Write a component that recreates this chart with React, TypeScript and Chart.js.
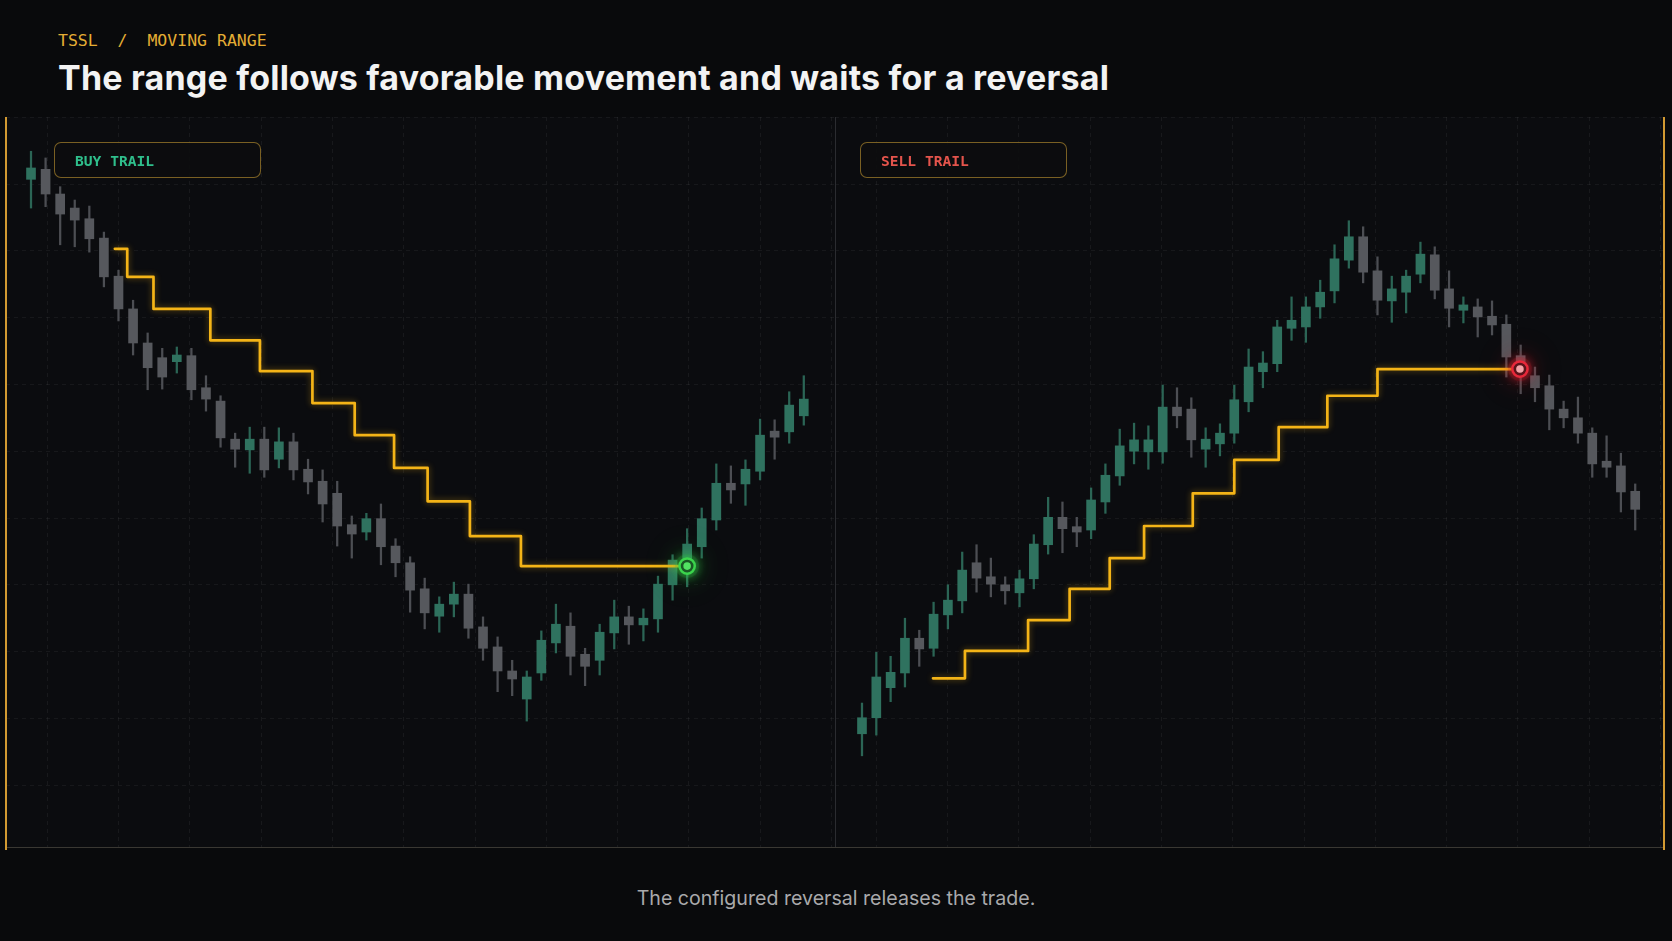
import React, { useEffect, useRef } from 'react';
import { Chart, registerables } from 'chart.js';

Chart.register(...registerables);

// ---------- BUY TRAIL panel (left) ----------
const buyOpen = [100.7, 102.2, 98.5, 96.4, 94.8, 91.9, 86.2, 81.3, 76.2, 74.0, 73.4, 74.3, 69.5, 67.5, 61.8, 60.2, 61.8, 58.8, 61.4, 57.3, 55.5, 53.7, 49.0, 47.9, 49.9, 45.8, 43.3, 39.4, 35.3, 37.1, 38.6, 33.7, 30.7, 27.1, 22.9, 26.8, 31.3, 33.8, 29.6, 28.7, 32.8, 35.2, 34.0, 34.9, 40.0, 43.4, 45.7, 49.7, 55.2, 55.1, 57.0, 63.0, 62.9, 65.3];
const buyHigh = [104.9, 103.9, 99.6, 97.6, 96.7, 92.8, 87.1, 82.6, 77.7, 75.4, 75.6, 75.4, 71.3, 68.3, 62.7, 63.6, 63.6, 63.5, 62.7, 58.8, 57.2, 55.5, 50.3, 50.7, 52.1, 46.9, 44.2, 41.0, 38.2, 40.4, 40.1, 35.2, 32.2, 28.7, 27.1, 33.1, 37.1, 35.8, 30.5, 34.1, 37.7, 36.8, 36.4, 41.3, 44.5, 48.4, 51.5, 58.1, 57.8, 58.7, 64.8, 64.7, 68.9, 71.3];
const buyLow = [96.4, 96.6, 90.9, 90.6, 89.8, 84.6, 79.5, 74.4, 69.2, 69.3, 71.7, 67.7, 66.0, 60.6, 57.6, 56.7, 56.1, 57.5, 55.7, 53.6, 49.4, 45.8, 44.0, 46.7, 43.0, 41.2, 35.9, 33.4, 32.9, 35.2, 32.0, 28.7, 24.0, 23.4, 19.6, 25.7, 29.8, 26.5, 24.9, 26.5, 30.4, 31.1, 31.6, 32.9, 37.7, 39.7, 44.0, 48.2, 52.2, 51.9, 55.7, 58.8, 61.2, 63.9];
const buyClose = [102.4, 98.5, 95.5, 94.6, 91.8, 86.1, 81.3, 76.2, 72.5, 71.1, 74.4, 69.2, 67.8, 62.0, 60.3, 61.8, 57.2, 61.4, 57.2, 55.4, 52.1, 48.8, 47.6, 49.9, 45.7, 43.3, 39.2, 35.8, 37.1, 38.6, 33.5, 30.5, 27.1, 25.9, 26.2, 31.7, 34.1, 29.3, 27.8, 32.9, 35.2, 34.0, 35.0, 40.1, 43.7, 46.1, 49.9, 55.2, 54.2, 57.3, 62.4, 62.1, 66.9, 67.8];
const buyTrailLevels = [90.3, 86.1, 81.3, 76.6, 72.0, 67.2, 62.4, 57.5, 52.5, 47.3, 42.8];
const buyTrailBreaks = [5.75, 6.6, 8.4, 12.3, 15.7, 19.3, 22.2, 24.9, 27.2, 30.1, 33.6, 45.0];
const buyMarker = { x: 45.0, y: 42.8 };

// ---------- SELL TRAIL panel (right) ----------
const sellOpen = [17.7, 20.1, 24.6, 26.8, 32.0, 30.5, 35.5, 37.6, 43.3, 41.2, 40.0, 38.8, 40.9, 46.0, 50.1, 48.7, 48.2, 52.4, 56.3, 60.0, 59.9, 59.9, 66.6, 66.3, 60.3, 61.1, 62.7, 67.4, 71.9, 73.1, 78.4, 78.6, 81.6, 84.0, 88.6, 92.1, 87.0, 82.5, 83.8, 86.5, 89.4, 84.3, 81.1, 81.6, 80.2, 79.0, 74.3, 71.3, 69.8, 66.3, 65.0, 62.7, 58.5, 57.8, 54.0];
const sellHigh = [22.3, 29.9, 29.3, 35.0, 33.2, 37.4, 40.0, 44.9, 46.0, 44.0, 41.2, 42.2, 47.5, 53.1, 52.4, 50.1, 54.5, 58.1, 63.3, 64.2, 63.8, 69.9, 69.5, 68.0, 63.5, 64.1, 69.9, 75.3, 74.9, 79.6, 83.1, 83.1, 85.6, 90.9, 94.5, 93.6, 89.1, 86.2, 87.1, 91.3, 90.6, 87.0, 83.1, 82.8, 82.5, 80.4, 75.9, 72.6, 71.4, 67.5, 68.1, 63.5, 62.3, 59.7, 55.1];
const sellLow = [14.4, 17.5, 22.5, 24.7, 27.8, 29.3, 33.4, 35.8, 38.9, 38.2, 37.1, 36.7, 39.4, 44.6, 44.8, 45.7, 46.9, 50.7, 54.9, 58.1, 57.3, 58.2, 63.5, 59.1, 57.6, 59.3, 61.2, 65.9, 69.5, 71.9, 76.6, 76.3, 79.9, 82.2, 87.4, 85.2, 80.4, 79.3, 80.7, 85.2, 82.8, 78.6, 79.2, 77.1, 77.4, 71.1, 68.6, 67.4, 63.2, 63.5, 61.2, 56.1, 56.1, 50.9, 48.2];
const sellClose = [20.1, 26.2, 26.9, 32.0, 30.4, 35.6, 37.7, 42.2, 41.0, 40.1, 39.1, 40.9, 46.1, 50.1, 48.4, 47.9, 52.7, 56.4, 60.8, 61.7, 61.7, 66.6, 65.3, 61.7, 61.8, 62.7, 67.7, 72.6, 73.2, 78.6, 79.6, 81.6, 83.8, 88.8, 92.1, 86.8, 82.6, 84.3, 86.2, 89.5, 84.1, 81.4, 81.9, 80.1, 78.9, 74.1, 72.8, 69.5, 66.3, 65.0, 62.7, 58.1, 57.6, 53.9, 51.3];
const sellTrailLevels = [26.0, 30.1, 34.7, 39.4, 44.0, 48.8, 53.7, 58.7, 63.6, 68.3, 72.3];
const sellTrailBreaks = [4.96, 7.19, 11.6, 14.5, 17.3, 19.7, 23.1, 26.0, 29.1, 32.5, 36.0, 45.95];
const sellMarker = { x: 45.95, y: 72.3 };

const UP_BODY = '#2f725f';
const DOWN_BODY = '#56585d';
const UP_WICK = '#2b6555';
const DOWN_WICK = '#4c4e53';
const TRAIL = '#f4b417';

const glowPlugin = {
  id: 'glow',
  beforeDatasetDraw(chart: any, args: any) {
    const ds = chart.data.datasets[args.index];
    if (ds.glowColor) {
      chart.ctx.save();
      chart.ctx.shadowColor = ds.glowColor;
      chart.ctx.shadowBlur = ds.glowBlur;
    }
  },
  afterDatasetDraw(chart: any, args: any) {
    const ds = chart.data.datasets[args.index];
    if (ds.glowColor) chart.ctx.restore();
  },
};

type PanelProps = {
  open: number[];
  high: number[];
  low: number[];
  close: number[];
  levels: number[];
  breaks: number[];
  marker: { x: number; y: number };
  xMin: number;
  xMax: number;
  ring: string;
  ringFill: string;
  dot: string;
  glow: string;
  halo: string;
};

function Panel(p: PanelProps) {
  const ref = useRef<HTMLCanvasElement | null>(null);
  useEffect(() => {
    if (!ref.current) return;
    const idx = p.open.map((_, i) => i);
    const up = idx.map((i) => p.close[i] >= p.open[i]);
    const wicks = idx.map((i) => ({ x: i, y: [p.low[i], p.high[i]] }));
    const bodies = idx.map((i) => ({ x: i, y: [p.open[i], p.close[i]] }));
    const trail: { x: number; y: number }[] = [];
    p.levels.forEach((lv, k) => {
      trail.push({ x: p.breaks[k], y: lv });
      trail.push({ x: p.breaks[k + 1], y: lv });
    });
    const chart = new Chart(ref.current, {
      type: 'line',
      data: {
        datasets: [
          {
            type: 'bar',
            data: wicks as any,
            backgroundColor: up.map((u) => (u ? UP_WICK : DOWN_WICK)),
            barThickness: 1.6,
            grouped: false,
            order: 5,
          } as any,
          {
            type: 'bar',
            data: bodies as any,
            backgroundColor: up.map((u) => (u ? UP_BODY : DOWN_BODY)),
            barThickness: 9,
            grouped: false,
            order: 4,
          } as any,
          {
            type: 'line',
            data: trail,
            borderColor: TRAIL,
            borderWidth: 2.7,
            pointRadius: 0,
            borderJoinStyle: 'round',
            borderCapStyle: 'round',
            tension: 0,
            order: 3,
            glowColor: 'rgba(244,180,23,0.45)',
            glowBlur: 6,
          } as any,
          {
            type: 'line',
            data: [p.marker],
            showLine: false,
            pointRadius: 12,
            pointBackgroundColor: p.halo,
            pointBorderWidth: 0,
            order: 2,
            glowColor: p.glow,
            glowBlur: 40,
          } as any,
          {
            type: 'line',
            data: [p.marker],
            showLine: false,
            pointRadius: 7.5,
            pointBackgroundColor: p.glow,
            pointBorderWidth: 0,
            order: 1,
            glowColor: p.glow,
            glowBlur: 26,
          } as any,
          {
            type: 'line',
            data: [p.marker],
            showLine: false,
            pointRadius: 7.6,
            pointBackgroundColor: p.ringFill,
            pointBorderColor: p.ring,
            pointBorderWidth: 2.5,
            order: 0,
            glowColor: p.glow,
            glowBlur: 12,
          } as any,
          {
            type: 'line',
            data: [p.marker],
            showLine: false,
            pointRadius: 3.8,
            pointBackgroundColor: p.dot,
            pointBorderWidth: 0,
            order: -1,
          } as any,
        ],
      },
      options: {
        animation: false,
        responsive: false,
        maintainAspectRatio: false,
        layout: { padding: 0, autoPadding: false },
        events: [],
        plugins: { legend: { display: false }, tooltip: { enabled: false } },
        scales: {
          x: {
            type: 'linear',
            min: p.xMin,
            max: p.xMax,
            grid: { display: false, offset: false },
            ticks: { display: false },
            border: { display: false },
            offset: false,
            afterFit: (s: any) => { s.height = 0; },
          },
          xg: {
            type: 'linear',
            position: 'bottom',
            min: -0.58,
            max: 11.05,
            grid: { color: 'rgba(255,255,255,0.055)', drawTicks: false, offset: false, lineWidth: 1 },
            ticks: { display: false, stepSize: 1, includeBounds: false },
            border: { display: false, dash: [4, 4] },
            offset: false,
            afterFit: (s: any) => { s.height = 0; },
          },
          y: {
            type: 'linear',
            min: 0.75,
            max: 110.03,
            grid: { color: 'rgba(255,255,255,0.05)', drawTicks: false, offset: false, lineWidth: 1 },
            ticks: { display: false, stepSize: 10, includeBounds: false },
            border: { display: false, dash: [4, 4] },
            afterFit: (s: any) => { s.width = 0; },
          },
        },
      } as any,
      plugins: [glowPlugin],
    });
    return () => chart.destroy();
  }, []);
  return <canvas ref={ref} width={829} height={730} style={{ display: 'block', width: 829, height: 730 }} />;
}

const mono = '"DejaVu Sans Mono", "Liberation Mono", monospace';

function Tag({ left, text, color }: { left: number; text: string; color: string }) {
  return (
    <div
      style={{
        position: 'absolute',
        left,
        top: 142,
        width: 207,
        height: 36,
        boxSizing: 'border-box',
        border: '1px solid rgba(214,165,55,0.55)',
        borderRadius: 7,
        background: 'rgba(13,13,14,0.92)',
        display: 'flex',
        alignItems: 'center',
        paddingLeft: 20,
        font: `bold 14.6px ${mono}`,
        color,
      }}
    >
      {text}
    </div>
  );
}

export default function App() {
  return (
    <div style={{ position: 'fixed', inset: 0, background: '#090a0c', overflow: 'hidden' }}>
      <div
        style={{
          position: 'absolute', left: 58, top: 33, font: `16.5px ${mono}`, lineHeight: 1,
          color: '#e4ad34', whiteSpace: 'pre',
        }}
      >
        {'TSSL  /  MOVING RANGE'}
      </div>
      <div
        style={{
          position: 'absolute', left: 58, top: 61, font: '700 34px Inter, "Noto Sans", sans-serif', lineHeight: 1,
          color: '#f3f3f3', whiteSpace: 'pre', letterSpacing: 0.2,
        }}
      >
        The range follows favorable movement and waits for a reversal
      </div>

      <div style={{ position: 'absolute', left: 6, top: 117, width: 1658, height: 730, background: '#0b0c0f' }} />
      <div style={{ position: 'absolute', left: 6, top: 117 }}>
        <Panel
          open={buyOpen} high={buyHigh} low={buyLow} close={buyClose}
          levels={buyTrailLevels} breaks={buyTrailBreaks} marker={buyMarker}
          xMin={-1.715} xMax={55.14}
          ring="#3bd44c" ringFill="#143c1d" dot="#52e262"
          glow="rgba(60,220,80,0.8)" halo="rgba(40,160,60,0.18)"
        />
      </div>
      <div style={{ position: 'absolute', left: 835, top: 117 }}>
        <Panel
          open={sellOpen} high={sellHigh} low={sellLow} close={sellClose}
          levels={sellTrailLevels} breaks={sellTrailBreaks} marker={sellMarker}
          xMin={-1.885} xMax={56.01}
          ring="#e8283a" ringFill="#3c1016" dot="#f3a4a8"
          glow="rgba(235,40,55,0.8)" halo="rgba(170,30,40,0.18)"
        />
      </div>
      <div style={{ position: 'absolute', left: 835, top: 117, width: 1, height: 730, background: '#2b2c30' }} />
      <div style={{ position: 'absolute', left: 6, top: 847, width: 1658, height: 1, background: '#3a3833' }} />
      <div style={{ position: 'absolute', left: 5, top: 117, width: 1.5, height: 733, background: '#d29a32' }} />
      <div style={{ position: 'absolute', left: 1663, top: 117, width: 1.5, height: 733, background: '#d29a32' }} />

      <Tag left={54} text="BUY TRAIL" color="#2fbf8c" />
      <Tag left={860} text="SELL TRAIL" color="#e4544c" />

      <div
        style={{
          position: 'absolute', left: 0, width: 1672, top: 889, textAlign: 'center',
          font: '19.6px Inter, "Noto Sans", sans-serif', lineHeight: 1, color: '#a9a9ab',
        }}
      >
        The configured reversal releases the trade.
      </div>
    </div>
  );
}
